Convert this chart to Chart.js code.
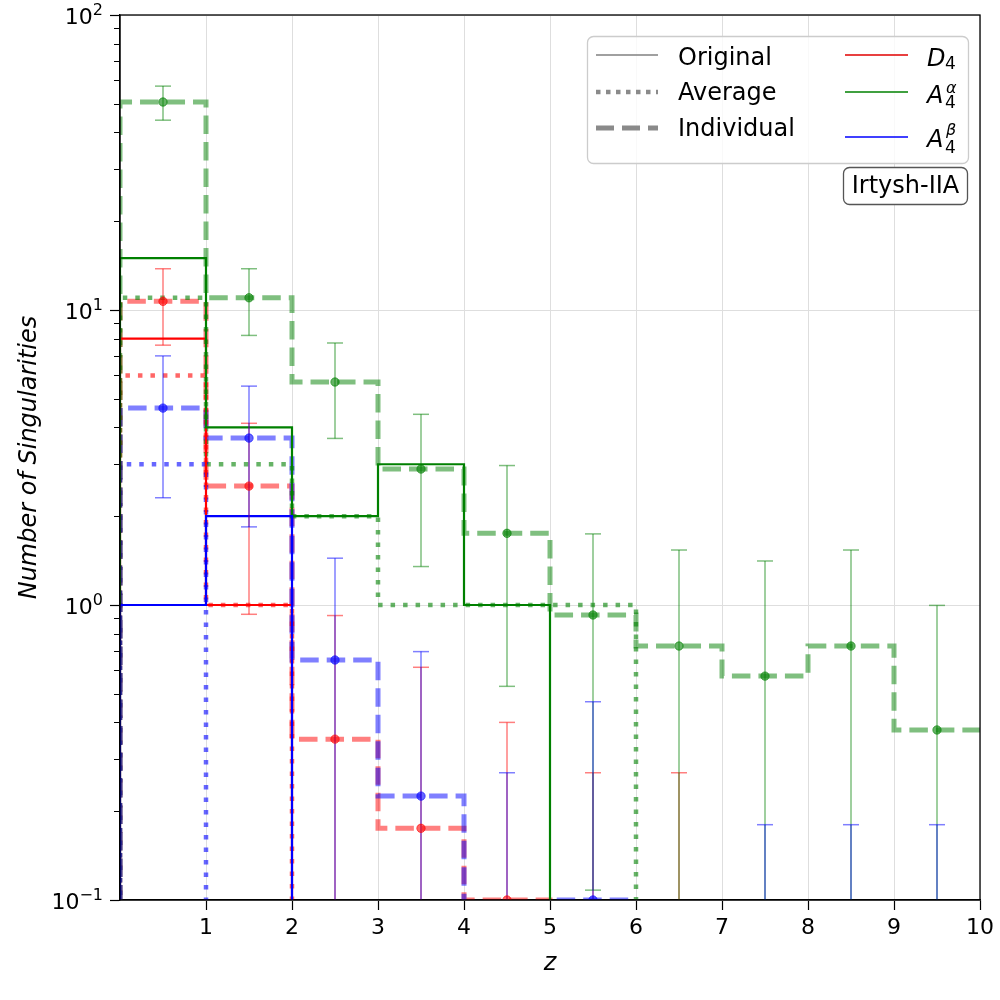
<!DOCTYPE html>
<html>
<head>
<meta charset="utf-8">
<script src="https://cdn.jsdelivr.net/npm/chart.js@4.4.1/dist/chart.umd.min.js"></script>
<style>
  html, body { margin: 0; padding: 0; background: #fff; }
  #wrap { position: relative; width: 1000px; height: 1000px; }
  #c { position: absolute; left: 0; top: 0; }
  #leg { position: absolute; left: 0; top: 0; pointer-events: none; }
</style>
</head>
<body>
<div id="wrap">
<canvas id="c" width="1000" height="1000" style="width:1000px;height:1000px"></canvas>
<svg id="leg" width="1000" height="1000" font-family="DejaVu Sans" font-size="24">
  <g id="yticks" font-size="22" fill="#000"></g>
  <rect x="587.5" y="36.5" width="381" height="127" rx="6" ry="6" fill="rgba(255,255,255,0.8)" stroke="#cccccc" stroke-width="1.3"/>
  <line x1="596" y1="55" x2="658" y2="55" stroke="#808080" stroke-width="1.5"/>
  <line x1="596" y1="92" x2="658" y2="92" stroke="#8a8a8a" stroke-width="4.5" stroke-dasharray="4.5 5.5"/>
  <line x1="596" y1="128" x2="658" y2="128" stroke="#8a8a8a" stroke-width="5" stroke-dasharray="18 8"/>
  <text x="678" y="65" fill="#000">Original</text>
  <text x="678" y="100" fill="#000">Average</text>
  <text x="678" y="136" fill="#000">Individual</text>
  <line x1="845" y1="55" x2="908" y2="55" stroke="#e00000" stroke-width="1.5"/>
  <line x1="845" y1="92" x2="908" y2="92" stroke="#008000" stroke-width="1.5"/>
  <line x1="845" y1="137" x2="908" y2="137" stroke="#0000ff" stroke-width="1.5"/>
  <text x="927" y="66" font-style="italic" fill="#000">D</text>
  <text x="945" y="69" font-size="17" fill="#000">4</text>
  <text x="927" y="103" font-style="italic" fill="#000">A</text>
  <text x="946" y="93" font-size="16" font-style="italic" fill="#000">α</text>
  <text x="945" y="108" font-size="17" fill="#000">4</text>
  <text x="927" y="147" font-style="italic" fill="#000">A</text>
  <text x="946" y="135" font-size="16" font-style="italic" fill="#000">β</text>
  <text x="945" y="153" font-size="17" fill="#000">4</text>
  <rect x="843.5" y="167.5" width="124" height="37" rx="6" ry="6" fill="#ffffff" stroke="#555555" stroke-width="1.3"/>
  <text x="905.5" y="193" text-anchor="middle" fill="#000">Irtysh-IIA</text>
</svg>
</div>
<script>
// ---------- data ----------
const EDGES = [0, 1, 2, 3, 4, 5, 6, 7, 8, 9, 10];
const CENTERS = [0.5, 1.5, 2.5, 3.5, 4.5, 5.5, 6.5, 7.5, 8.5, 9.5];

// Original (solid)
const origD4  = [8, 1, 0, 0, 0, 0, 0, 0, 0, 0];
const origA4a = [15, 4, 2, 3, 1, 0, 0, 0, 0, 0];
const origA4b = [1, 2, 0, 0, 0, 0, 0, 0, 0, 0];

// Average (dotted)
const avgD4  = [6, 1, 0, 0, 0, 0, 0, 0, 0, 0];
const avgA4a = [11, 3, 2, 1, 1, 1, 0, 0, 0, 0];
const avgA4b = [3, 0, 0, 0, 0, 0, 0, 0, 0, 0];

// Individual (dashed) with error bars
const indD4  = [10.7, 2.53, 0.351, 0.175, 0.1, 0, 0, 0, 0, 0];
const errD4  = [3.1, 1.6, 0.57, 0.44, 0.3, 0.27, 0.27, 0, 0, 0];
const indA4a = [50.7, 11.0, 5.7, 2.89, 1.75, 0.925, 0.726, 0.574, 0.726, 0.377];
const errA4a = [6.7, 2.8, 2.03, 1.54, 1.22, 0.817, 0.81, 0.836, 0.81, 0.62];
const indA4b = [4.65, 3.68, 0.651, 0.225, 0, 0.1, 0, 0, 0, 0];
const errA4b = [2.34, 1.84, 0.79, 0.47, 0.27, 0.37, 0, 0.18, 0.18, 0.18];

// axis ticks
const X_TICKS = [1, 2, 3, 4, 5, 6, 7, 8, 9, 10];
const X_LABELS = ['1', '2', '3', '4', '5', '6', '7', '8', '9', '10'];
const Y_TICKS = [0.1, 1, 10, 100];
const Y_LABEL_BASE = ['10', '10', '10', '10'];
const Y_LABEL_EXP = ['\u22121', '0', '1', '2'];
const Y_DECADES = [0.1, 1, 10];
const Y_MINOR_MULT = [2, 3, 4, 5, 6, 7, 8, 9];

// ---------- helpers ----------
const FLOOR = 0.01; // below the visible axis: empty bins drop out of view
function stepPts(vals) {
  const pts = [{ x: EDGES[0], y: FLOOR }];
  vals.forEach((v, i) => pts.push({ x: EDGES[i], y: v > 0 ? v : FLOOR }));
  const last = vals[vals.length - 1];
  pts.push({ x: EDGES[EDGES.length - 1], y: last > 0 ? last : FLOOR });
  return pts;
}
function errPts(vals, errs) {
  const out = [];
  CENTERS.forEach((c, i) => {
    if (errs[i] > 0) {
      out.push({ x: c, y: Math.max(vals[i] - errs[i], FLOOR) });
      out.push({ x: c, y: vals[i] + errs[i] });
      out.push({ x: c, y: null });
    }
  });
  return out;
}
function markPts(vals) {
  return CENTERS.map((c, i) => ({ x: c, y: vals[i] > 0 ? vals[i] : null }));
}
const COL = { r: [255, 0, 0], g: [0, 128, 0], b: [0, 0, 255] };
const rgba = (c, a) => `rgba(${COL[c][0]},${COL[c][1]},${COL[c][2]},${a})`;

function stepDS(vals, c, kind) {
  const base = { type: 'line', data: stepPts(vals), stepped: 'before', pointRadius: 0, fill: false, clip: 0, tension: 0, borderCapStyle: 'butt' };
  if (kind === 'solid') return Object.assign(base, { borderColor: rgba(c, 1), borderWidth: 2.2, order: 4 });
  if (kind === 'dot') return Object.assign(base, { borderColor: rgba(c, 0.6), borderWidth: 4.5, borderDash: [4.5, 8], order: 5 });
  return Object.assign(base, { borderColor: rgba(c, 0.5), borderWidth: 5, borderDash: [18.5, 8], order: 6 });
}
function errDS(vals, errs, c) {
  return { type: 'line', data: errPts(vals, errs), spanGaps: false, borderColor: rgba(c, 0.5), borderWidth: 1.5,
    pointStyle: 'line', pointRadius: 8, pointBorderWidth: 1.5, pointBorderColor: rgba(c, 0.5), pointBackgroundColor: rgba(c, 0.5),
    clip: 0, order: 3 };
}
function markDS(vals, c) {
  return { type: 'line', data: markPts(vals), showLine: false, pointStyle: 'circle', pointRadius: 4.2, pointBorderWidth: 1,
    pointBackgroundColor: rgba(c, 0.6), pointBorderColor: rgba(c, 0.6), clip: 0, order: 2 };
}

// earlier entries are painted on top within the same layer (D4 bottom, A4α, A4β top)
const datasets = [
  stepDS(indA4b, 'b', 'dash'), stepDS(indA4a, 'g', 'dash'), stepDS(indD4, 'r', 'dash'),
  stepDS(avgA4b, 'b', 'dot'), stepDS(avgA4a, 'g', 'dot'), stepDS(avgD4, 'r', 'dot'),
  stepDS(origA4b, 'b', 'solid'), stepDS(origA4a, 'g', 'solid'), stepDS(origD4, 'r', 'solid'),
  errDS(indA4b, errA4b, 'b'), errDS(indA4a, errA4a, 'g'), errDS(indD4, errD4, 'r'),
  markDS(indA4b, 'b'), markDS(indA4a, 'g'), markDS(indD4, 'r')
];

const framePlugin = {
  id: 'frame',
  afterDatasetsDraw(chart) {
    const { ctx, chartArea: a } = chart;
    const ys = chart.scales.y;
    ctx.save();
    ctx.strokeStyle = '#000';
    ctx.lineWidth = 1.3;
    ctx.strokeRect(a.left, a.top, a.right - a.left, a.bottom - a.top);
    ctx.lineWidth = 1;
    Y_DECADES.forEach(d => Y_MINOR_MULT.forEach(m => {
      const py = Math.round(ys.getPixelForValue(d * m)) + 0.5;
      ctx.beginPath();
      ctx.moveTo(a.left - 6, py);
      ctx.lineTo(a.left, py);
      ctx.stroke();
    }));
    ctx.restore();
  }
};

Chart.defaults.font.family = 'DejaVu Sans';
Chart.defaults.color = '#000';

const chart = new Chart(document.getElementById('c'), {
  data: { datasets },
  options: {
    responsive: false,
    animation: false,
    layout: { padding: { left: 0, right: 20, top: 15, bottom: 0 } },
    plugins: { legend: { display: false }, tooltip: { enabled: false } },
    scales: {
      x: {
        type: 'linear', min: 0, max: 10,
        afterBuildTicks: s => { s.ticks = X_TICKS.map(v => ({ value: v })); },
        afterFit: s => { s.height = 100; },
        ticks: { callback: (v, i) => X_LABELS[i], font: { size: 22 }, color: '#000', padding: 5, maxRotation: 0, autoSkip: false },
        grid: { color: '#dedede', lineWidth: 1, tickLength: 10, tickColor: '#000', tickWidth: 1.2 },
        border: { color: '#000', width: 1.3 },
        title: { display: true, text: 'z', font: { size: 24, style: 'italic' }, color: '#000', padding: { top: 0, bottom: 22 } }
      },
      y: {
        type: 'logarithmic', min: 0.1, max: 100,
        afterBuildTicks: s => { s.ticks = Y_TICKS.map(v => ({ value: v, major: true })); },
        afterFit: s => { s.width = 120; },
        ticks: { display: false },
        grid: { color: '#dedede', lineWidth: 1, tickLength: 10, tickColor: '#000', tickWidth: 1.2 },
        border: { color: '#000', width: 1.3 },
        title: { display: true, text: 'Number of Singularities', font: { size: 24, style: 'italic' }, color: '#000', padding: { top: 15, bottom: 0 } }
      }
    }
  },
  plugins: [framePlugin]
});

// y tick labels with real superscripts, placed through the y scale
(function () {
  const ys = chart.scales.y;
  const g = document.getElementById('yticks');
  const NS = 'http://www.w3.org/2000/svg';
  Y_TICKS.forEach((v, i) => {
    const py = ys.getPixelForValue(v);
    const t = document.createElementNS(NS, 'text');
    t.setAttribute('x', ys.left + ys.width - 17);
    t.setAttribute('y', py + 9);
    t.setAttribute('text-anchor', 'end');
    t.appendChild(document.createTextNode(Y_LABEL_BASE[i]));
    const s = document.createElementNS(NS, 'tspan');
    s.setAttribute('font-size', '16');
    s.setAttribute('dy', '-9');
    s.textContent = Y_LABEL_EXP[i];
    t.appendChild(s);
    g.appendChild(t);
  });
})();
</script>
</body>
</html>
